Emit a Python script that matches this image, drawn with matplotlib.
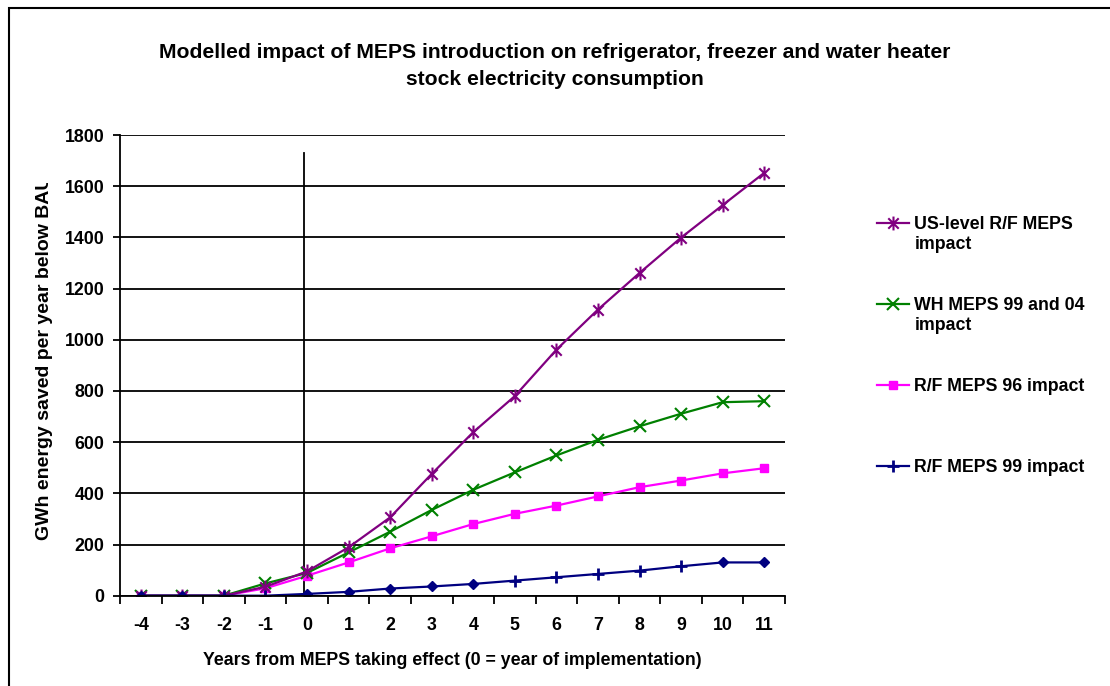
import matplotlib
matplotlib.use("Agg")
import matplotlib.pyplot as plt
from matplotlib.path import Path
from matplotlib.patches import Rectangle
from matplotlib.transforms import Bbox, TransformedBbox

plt.rcParams['font.family'] = ['Liberation Sans', 'DejaVu Sans']
plt.rcParams['font.weight'] = 'bold'

# data
years = [-4, -3, -2, -1, 0, 1, 2, 3, 4, 5, 6, 7, 8, 9, 10, 11]
us_rf = [0, 0, 0, 35, 95, 189, 306, 476, 639, 780, 961, 1118, 1261, 1399, 1526, 1652]
wh_meps = [0, 0, 0, 48, 89, 169, 250, 335, 414, 482, 548, 609, 662, 711, 756, 760]
rf96 = [0, 0, 0, 29, 78, 130, 185, 232, 280, 320, 352, 388, 424, 450, 478, 498]
rf99 = [0, 0, 0, 0, 7, 15, 28, 36, 46, 59, 72, 85, 98, 115, 130, 130]
rf99_diamonds = [0, 1, 4, 5, 6, 7, 8, 14, 15]   # points drawn as diamonds in the original

labels = ["US-level R/F MEPS\nimpact", "WH MEPS 99 and 04\nimpact",
          "R/F MEPS 96 impact\n", "R/F MEPS 99 impact\n"]

# excel style asterisk marker
star = Path([(0, -1), (0, 1), (-0.75, -0.75), (0.75, 0.75), (-0.75, 0.75), (0.75, -0.75)],
            [Path.MOVETO, Path.LINETO, Path.MOVETO, Path.LINETO, Path.MOVETO, Path.LINETO])

fig = plt.figure(figsize=(11.1, 6.86), dpi=100)
ax = fig.add_axes([120/1110, 1 - 595.7/686, 665/1110, 460.7/686])

x = list(range(len(years)))
ax.plot(x, rf96, color='#FF00FF', lw=1.6, marker='s', ms=6, label=labels[2], zorder=3)
ax.plot(x, wh_meps, color='#008000', lw=1.6, marker='x', ms=8, mew=1.5, label=labels[1], zorder=4)
ax.plot(x, us_rf, color='#800080', lw=1.6, marker=star, ms=10, mew=1.5, mfc='none', label=labels[0], zorder=5)
ax.plot(x, rf99, color='#000080', lw=1.6, marker='+', ms=8, mew=2, label=labels[3], zorder=6,
        markevery=[i for i in x if i not in rf99_diamonds])
ax.plot([x[i] for i in rf99_diamonds], [rf99[i] for i in rf99_diamonds], ls='none',
        marker='D', ms=5, color='#000080', zorder=6)

# vertical marker line at year 0
ax.plot([years.index(0) - 0.07] * 2, [0, 1730], color='black', lw=1.3, zorder=2)

ax.set_xlim(-0.5, len(years) - 0.5)
ax.set_ylim(0, 1800)
ax.set_yticks(range(0, 1801, 200))
ax.set_xticks(x)
ax.set_xticklabels([str(y) for y in years])
ax.set_xticks([i - 0.5 for i in range(len(years) + 1)], minor=True)
ax.tick_params(axis='x', which='major', length=0, pad=15, labelsize=12.8)
ax.tick_params(axis='x', which='minor', length=6, width=1.3, direction='out')
ax.tick_params(axis='y', length=5, width=1.3, pad=6, labelsize=12.8)
ax.grid(axis='y', color='black', lw=1.3)
ax.set_axisbelow(True)
for s in ['top', 'right']:
    ax.spines[s].set_visible(False)
for s in ['left', 'bottom']:
    ax.spines[s].set_linewidth(1.3)
    ax.spines[s].set_zorder(7)

ax.set_xlabel("Years from MEPS taking effect (0 = year of implementation)", fontsize=12.8,
              fontweight='bold', labelpad=13)

ylab = fig.text(45/1110, 1 - 358/686, "GWh energy saved per year below BAU", rotation=90,
                ha='center', va='center', fontsize=14)
ylab.set_clip_box(TransformedBbox(Bbox([[0, 0], [1, 1 - 183/686]]), fig.transFigure))
ylab.set_clip_on(True)

fig.suptitle("Modelled impact of MEPS introduction on refrigerator, freezer and water heater\n"
             "stock electricity consumption", fontsize=15.2, fontweight='bold',
             y=1 - 43/686, linespacing=1.55)

handles, labs = ax.get_legend_handles_labels()
order = [2, 1, 0, 3]
leg = ax.legend([handles[i] for i in order], [labs[i] for i in order],
                loc='upper left', bbox_to_anchor=(877/1110, 1 - 216/686),
                bbox_transform=fig.transFigure, frameon=False, borderpad=0,
                borderaxespad=0, fontsize=12.8, handlelength=1.8, handletextpad=0.3,
                handleheight=1.0, labelspacing=2.5)
for t in leg.get_texts():
    t.set_linespacing(1.2)
for col in leg._legend_handle_box.get_children():
    for row in col.get_children():
        row.align = 'top'

fig.add_artist(Rectangle((9/1110, -0.1), 2, 1.1 - 8/686, transform=fig.transFigure,
                         fill=False, ec='black', lw=1.5))

fig.savefig("out.png", dpi=100)
